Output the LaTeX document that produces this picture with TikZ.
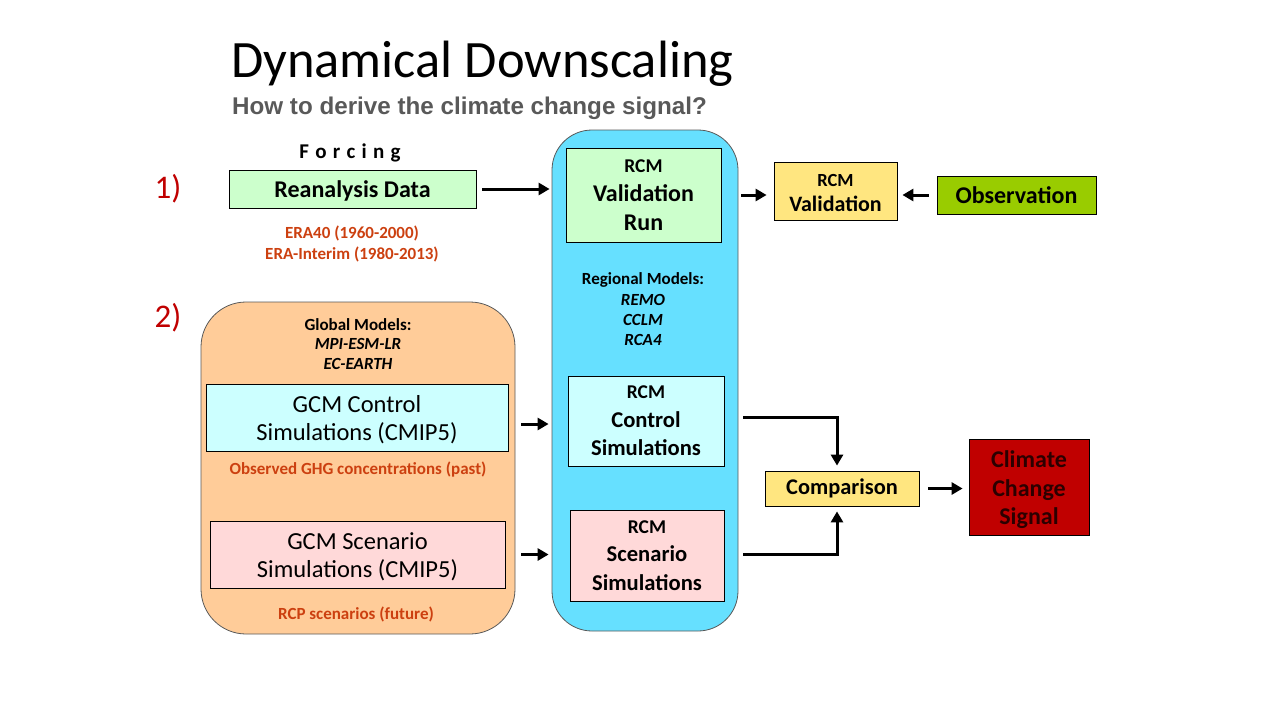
\documentclass[tikz,border=0pt]{standalone}
\usepackage{fontspec}
\setmainfont{Carlito}
\newfontfamily\arialfont{Liberation Sans}
\usetikzlibrary{arrows.meta,calc}

\definecolor{lightgreen}{HTML}{CCFFCC}
\definecolor{skyblue}{HTML}{66E0FF}
\definecolor{peach}{HTML}{FFCC99}
\definecolor{lightcyan}{HTML}{CCFFFF}
\definecolor{lightpink}{HTML}{FFD9D9}
\definecolor{paleyellow}{HTML}{FFE680}
\definecolor{obsgreen}{HTML}{99CC00}
\definecolor{darkred}{HTML}{C00000}
\definecolor{notered}{RGB}{204,64,16}
\definecolor{subgray}{HTML}{595959}
\definecolor{signaltext}{HTML}{2B0000}

\tikzset{
  box/.style={draw=black, line width=0.8pt, inner sep=0pt, align=center,
    font=\bfseries\fontsize{24}{29}\selectfont},
  panel/.style={draw=black!65, line width=0.8pt, inner sep=0pt},
  note/.style={inner sep=0pt, align=center, text=notered,
    font=\bfseries\fontsize{17}{21}\selectfont},
  models/.style={inner sep=0pt, align=center,
    font=\bfseries\fontsize{17}{19.5}\selectfont},
  marker/.style={inner sep=0pt, text=darkred, font=\fontsize{33}{33}\selectfont},
  arr/.style={line width=3pt, -{Triangle[length=11pt,width=12pt]}},
}
\begin{document}
\begin{tikzpicture}[x=1pt,y=-1pt]
\useasboundingbox (0,0) rectangle (1280,720);

% headings
\node[anchor=base west, inner sep=0pt, font=\fontsize{52.5}{52.5}\selectfont] (title)
  at (231,77) {Dynamical Downscaling};
\node[anchor=base west, inner sep=0pt, text=subgray,
  font=\arialfont\bfseries\fontsize{24.2}{24.2}\selectfont] (subtitle)
  at (232,114) {How to derive the climate change signal?};

% background panels
\node[panel, fill=peach, rounded corners=45pt, minimum width=314pt,
  minimum height=332pt] (global) at (358,468) {};
\node[panel, fill=skyblue, rounded corners=40pt, minimum width=186pt,
  minimum height=501pt] (blue) at (645,380.5) {};

% step markers and forcing label
\node[marker] (one) at (168,189) {1)};
\node[marker] (two) at (168,318) {2)};
\node[inner sep=0pt, font=\bfseries\fontsize{21}{21}\selectfont] (forcing) at (350,152.5)
  {F\hspace{6.3pt}o\hspace{6.3pt}r\hspace{6.3pt}c\hspace{6.3pt}i\hspace{6.3pt}n\hspace{6.3pt}g};

% forcing branch
\node[box, fill=lightgreen, minimum width=247pt, minimum height=38pt] (rean)
  at (352.5,189) {\raisebox{-8.5pt}[0pt][0pt]{Reanalysis Data}};
\node[note] (era) at (352,244) {ERA40 (1960-2000)\\ERA-Interim (1980-2013)};

% global models
\node[models] (gmods) at (358,344) {Global Models:\\\itshape MPI-ESM-LR\\\itshape EC-EARTH};
\node[box, font=\fontsize{24.5}{28}\selectfont, fill=lightcyan, minimum width=302pt,
  minimum height=67pt] (gcmc) at (357,417.5) {\rule{0pt}{21pt}GCM Control\\Simulations (CMIP5)};
\node[note] (ghg) at (358,470) {Observed GHG concentrations (past)};
\node[box, font=\fontsize{24.5}{28}\selectfont, fill=lightpink, minimum width=295pt,
  minimum height=67pt] (gcms) at (357.5,554.5) {\rule{0pt}{21pt}GCM Scenario\\Simulations (CMIP5)};
\node[note] (rcp) at (356,614) {RCP scenarios (future)};

% regional models
\node[box, fill=lightgreen, minimum width=155pt, minimum height=94pt] (valrun)
  at (643.5,195) {{\fontsize{19.5}{29}\selectfont RCM}\\Validation\\Run};
\node[models, font=\bfseries\fontsize{17}{20.3}\selectfont] (rmods) at (643,309.5)
  {Regional Models:\\\itshape REMO\\\itshape CCLM\\\itshape RCA4};
\node[box, font=\bfseries\fontsize{22.6}{28.5}\selectfont, fill=lightcyan,
  minimum width=156pt, minimum height=90pt] (rcmc)
  at (646,421) {{\fontsize{19.5}{28.5}\selectfont RCM}\\Control\\Simulations};
\node[box, font=\bfseries\fontsize{22.6}{28.5}\selectfont, fill=lightpink,
  minimum width=154pt, minimum height=91pt] (rcms)
  at (647,555.5) {{\fontsize{19.5}{28.5}\selectfont RCM}\\Scenario\\Simulations};

% validation and signal
\node[box, font=\bfseries\fontsize{22}{25}\selectfont, fill=paleyellow,
  minimum width=123pt, minimum height=58pt] (rcmval) at (835.5,191)
  {\rule{0pt}{16pt}{\fontsize{18.5}{25}\selectfont RCM}\\Validation};
\node[box, fill=obsgreen, minimum width=159pt, minimum height=38pt] (obs)
  at (1016.5,195) {\raisebox{-2pt}{Observation}};
\node[box, font=\bfseries\fontsize{22.4}{22.4}\selectfont, fill=paleyellow,
  minimum width=154pt, minimum height=35pt] (comp) at (842,488.5)
  {\raisebox{-1pt}{Comparison}};
\node[box, text=signaltext, font=\bfseries\fontsize{24}{28.5}\selectfont, fill=darkred,
  minimum width=120pt, minimum height=96pt] (ccs) at (1029,487)
  {\rule{0pt}{23pt}Climate\\Change\\Signal};

% connectors
\coordinate (gcout) at ([yshift=-6.5pt]gcmc.east);
\draw[arr, shorten <=6pt, shorten >=2pt] (rean.east) -- (rean.east -| blue.west);
\draw[arr, shorten <=3pt, shorten >=7pt] (valrun.east -| blue.east) -- (rcmval.west |- valrun.east);
\draw[arr, shorten <=8pt, shorten >=5pt] (obs.west) -- (rcmval.east |- obs.west);
\draw[arr, shorten <=13pt, shorten >=3pt] (gcout) -- (gcout -| blue.west);
\draw[arr, shorten <=16pt, shorten >=3pt] (gcms.east) -- (gcms.east -| blue.west);
\draw[arr, shorten >=5pt] ($(blue.east |- rcmc.east)+(5,-4)$) -| ($(comp.north)+(-5,0)$);
\draw[arr, shorten >=5pt] ($(blue.east |- rcms.east)+(5,-1.5)$) -| ($(comp.south)+(-5,0)$);
\draw[arr, shorten <=9pt, shorten >=6pt] (comp.east) -- (comp.east -| ccs.west);
\end{tikzpicture}
\end{document}
